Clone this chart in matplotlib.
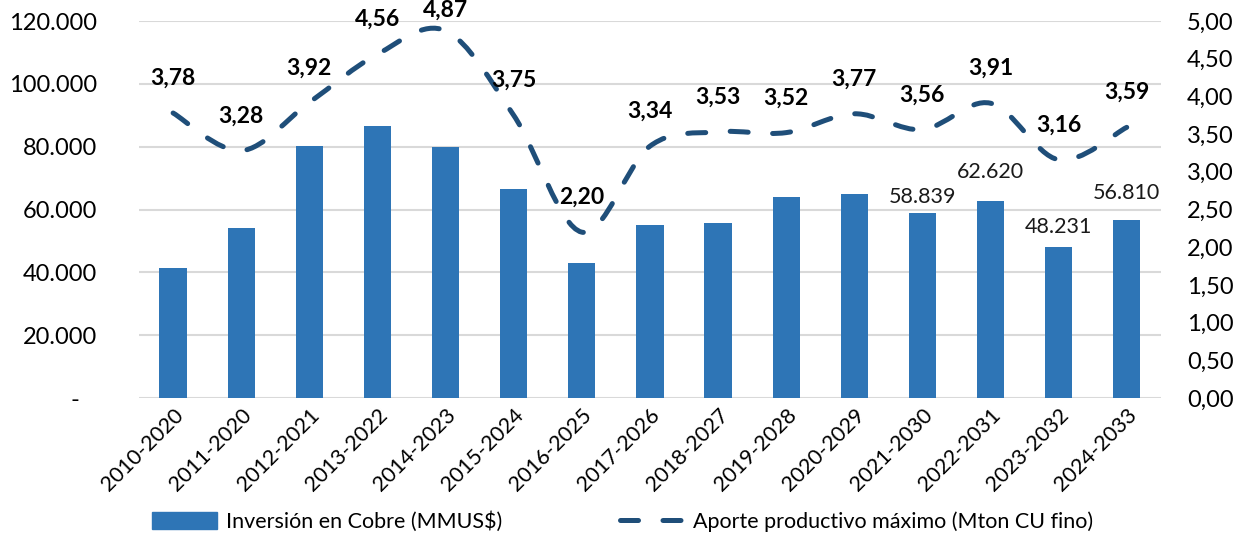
import numpy as np
import matplotlib.pyplot as plt
from matplotlib.path import Path
from matplotlib.patches import PathPatch
from matplotlib.lines import Line2D
from matplotlib.patches import Patch
from matplotlib.ticker import FuncFormatter

periodos = ['2010-2020', '2011-2020', '2012-2021', '2013-2022', '2014-2023',
            '2015-2024', '2016-2025', '2017-2026', '2018-2027', '2019-2028',
            '2020-2029', '2021-2030', '2022-2031', '2023-2032', '2024-2033']
inversion = [41300, 54200, 80300, 86500, 80000, 66400, 43000, 55200, 55800,
             63900, 64900, 58839, 62620, 48231, 56810]
aporte = [3.78, 3.28, 3.92, 4.56, 4.87, 3.75, 2.20, 3.34, 3.53, 3.52,
          3.77, 3.56, 3.91, 3.16, 3.59]
# only the last bars carry a value label in the original
bar_labels = {11: '58.839', 12: '62.620', 13: '48.231', 14: '56.810'}
bar_label_dy = {11: 12, 12: 21, 13: 14, 14: 19}
# label offsets above the line (the top one is pushed down to stay inside)
line_label_dy = [25, 25, 25, 25, 15, 25, 25, 25, 25, 25, 25, 25, 25, 25, 25]

plt.rcParams['font.family'] = ['Lato', 'DejaVu Sans']

bar_color = '#2E75B6'
line_color = '#1F4E79'
grid_color = '#D9D9D9'

fig = plt.figure(figsize=(12.46, 5.35), dpi=100)
ax = fig.add_axes([0.1116, 0.256, 0.82, 0.7047])
ax2 = ax.twinx()

x = np.arange(len(periodos))
ax.bar(x, inversion, width=0.4, color=bar_color, zorder=2)
ax.set_xlim(-0.5, len(periodos) - 0.5)
ax.set_ylim(0, 120000)
ax.set_yticks(np.arange(0, 120001, 20000))
ax.yaxis.set_major_formatter(FuncFormatter(
    lambda v, p: '-   ' if v == 0 else f'{int(v):,}'.replace(',', '.')))
ax.grid(axis='y', color=grid_color, lw=1.5, zorder=0)
ax.set_axisbelow(True)
for s in ax.spines.values():
    s.set_visible(False)
for s in ax2.spines.values():
    s.set_visible(False)
ax.tick_params(axis='y', length=0, pad=30, labelsize=17)
ax.tick_params(axis='x', length=0, pad=5, labelsize=15.5)
ax.set_xticks(x)
ax.set_xticklabels(periodos, rotation=45, ha='right', rotation_mode='anchor')

for i, lab in bar_labels.items():
    ax.annotate(lab, (x[i], inversion[i]), xytext=(0, bar_label_dy[i]),
                textcoords='offset points', ha='center', va='center',
                fontsize=15.5, color='#1a1a1a')

ax2.set_ylim(0, 5)
ax2.set_yticks(np.arange(0, 5.01, 0.5))
ax2.yaxis.set_major_formatter(FuncFormatter(lambda v, p: f'{v:.2f}'.replace('.', ',')))
ax2.tick_params(axis='y', length=0, pad=19, labelsize=17)

# smoothed line (bezier through the data points, like Excel's smooth line)
pts = np.column_stack([x, aporte]).astype(float)
verts = [tuple(pts[0])]
codes = [Path.MOVETO]
n = len(pts)
for i in range(n - 1):
    p0 = pts[i - 1] if i > 0 else pts[i]
    p3 = pts[i + 2] if i + 2 < n else pts[i + 1]
    c1 = pts[i] + (pts[i + 1] - p0) / 6
    c2 = pts[i + 1] - (p3 - pts[i]) / 6
    verts += [tuple(c1), tuple(c2), tuple(pts[i + 1])]
    codes += [Path.CURVE4] * 3
patch = PathPatch(Path(verts, codes), facecolor='none', edgecolor=line_color,
                  lw=3.6, linestyle=(0, (3.6, 4.9)), capstyle='round', zorder=3)
ax2.add_patch(patch)

for xi, v, dy in zip(x, aporte, line_label_dy):
    ax2.annotate(f'{v:.2f}'.replace('.', ','), (xi, v), xytext=(0, dy),
                 textcoords='offset points', ha='center', va='center',
                 fontsize=16.5, fontweight='bold', color='black')

handles = [Patch(color=bar_color),
           Line2D([0], [0], color=line_color, lw=3.6, linestyle=(0, (3.6, 4.9)),
                  dash_capstyle='round')]
fig.legend(handles, ['Inversión en Cobre (MMUS$)', 'Aporte productivo máximo (Mton CU fino)'],
           loc='center', bbox_to_anchor=(0.5, 0.025), ncol=2, frameon=False,
           fontsize=15.5, handlelength=3.0, handleheight=0.8, columnspacing=5.5,
           handletextpad=0.4)

fig.savefig('out.png', dpi=100)
